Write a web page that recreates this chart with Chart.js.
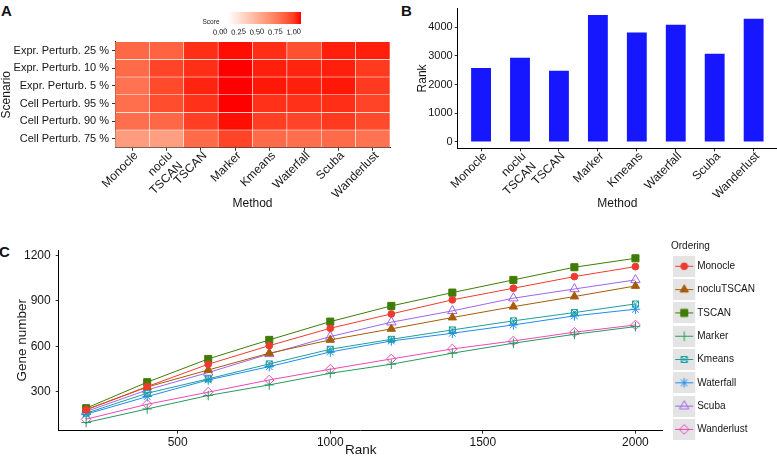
<!DOCTYPE html>
<html>
<head>
<meta charset="utf-8">
<script src="https://cdn.jsdelivr.net/npm/chart.js@4.4.1/dist/chart.umd.min.js"></script>
<style>
  body { margin: 0; background: #fff; width: 777px; height: 456px; position: relative; overflow: hidden;
         font-family: 'Liberation Sans', Arial, Helvetica, sans-serif; }
  canvas { position: absolute; }
  .tag { position: absolute; font-weight: bold; font-size: 15px; color: #111; line-height: 1; }
  .legtitle { position: absolute; font-size: 10px; color: #151515; line-height: 12px; }
</style>
</head>
<body>
<div class="tag" style="left:1px;top:3px">A</div>
<div class="tag" style="left:401px;top:3px">B</div>
<div class="tag" style="left:-1px;top:244px">C</div>

<canvas id="heat" width="392" height="215" style="left:0;top:0"></canvas>
<canvas id="scoreBar" width="115" height="36" style="left:195px;top:0"></canvas>
<canvas id="rank" width="387" height="215" style="left:390px;top:0"></canvas>
<canvas id="genes" width="777" height="226" style="left:0;top:230px"></canvas>
<div class="legtitle" style="left:671px;top:240px">Ordering</div>

<script>
const FONT = "'Liberation Sans', Arial, Helvetica, sans-serif";
Chart.defaults.font.family = FONT;
Chart.defaults.color = '#151515';
Chart.defaults.animation = false;

// ---- panel A: heatmap ----
const scenarios = ['Expr. Perturb. 25 %', 'Expr. Perturb. 10 %', 'Expr. Perturb. 5 %',
                   'Cell Perturb. 95 %', 'Cell Perturb. 90 %', 'Cell Perturb. 75 %'];
const methods = ['Monocle', 'nocluTSCAN', 'TSCAN', 'Marker', 'Kmeans', 'Waterfall', 'Scuba', 'Wanderlust'];
const methodLabels = ['Monocle', ['noclu', 'TSCAN'], 'TSCAN', 'Marker', 'Kmeans', 'Waterfall', 'Scuba', 'Wanderlust'];

// one row per scenario, columns follow methods
const scoreExpr25 = [0.75, 0.77, 0.94, 0.99, 0.94, 0.84, 0.97, 0.97];
const scoreExpr10 = [0.74, 0.88, 0.94, 1.00, 0.97, 0.96, 0.97, 0.91];
const scoreExpr5  = [0.70, 0.86, 0.96, 1.00, 0.98, 0.97, 0.98, 0.91];
const scoreCell95 = [0.72, 0.85, 0.93, 1.00, 0.93, 0.93, 0.94, 0.88];
const scoreCell90 = [0.72, 0.75, 0.90, 0.99, 0.90, 0.88, 0.91, 0.86];
const scoreCell75 = [0.51, 0.50, 0.74, 0.88, 0.74, 0.72, 0.74, 0.70];
const scoreRows = [scoreExpr25, scoreExpr10, scoreExpr5, scoreCell95, scoreCell90, scoreCell75];
const scoreTicks = [0, 0.25, 0.5, 0.75, 1];

// ---- panel B: rank per method ----
const rankByMethod = [2583, 2933, 2485, 4428, 3816, 4088, 3074, 4297];
const rankTicks = [0, 1000, 2000, 3000, 4000];

// ---- panel C: gene number vs rank ----
const ranks = [200, 400, 600, 800, 1000, 1200, 1400, 1600, 1800, 2000];
const geneMonocle    = [179, 333, 481, 604, 719, 814, 907, 984, 1061, 1127];
const geneNocluTSCAN = [180, 330, 443, 554, 642, 715, 790, 862, 929, 999];
const geneTSCAN      = [190, 362, 516, 642, 763, 867, 955, 1039, 1123, 1182];
const geneMarker     = [95, 185, 274, 344, 421, 481, 554, 620, 679, 730];
const geneKmeans     = [157, 289, 384, 483, 580, 646, 708, 768, 823, 880];
const geneWaterfall  = [150, 267, 377, 465, 562, 635, 686, 741, 801, 845];
const geneScuba      = [168, 311, 426, 549, 664, 759, 834, 918, 979, 1039];
const geneWanderlust = [117, 216, 296, 377, 448, 516, 582, 635, 693, 741];
const geneSeries = [geneMonocle, geneNocluTSCAN, geneTSCAN, geneMarker, geneKmeans, geneWaterfall, geneScuba, geneWanderlust];
const geneTicks = [300, 600, 900, 1200];
const rankAxisTicks = [500, 1000, 1500, 2000];

// white -> red in Lab space, like scale_fill_gradient
function scoreColor(t) {
  const L = 100 + (53.24 - 100) * t, A = 80.09 * t, B = 67.2 * t;
  const fy = (L + 16) / 116, fx = fy + A / 500, fz = fy - B / 200;
  const inv = f => f > 6 / 29 ? f * f * f : 3 * (6 / 29) * (6 / 29) * (f - 4 / 29);
  const X = 0.95047 * inv(fx), Y = inv(fy), Z = 1.08883 * inv(fz);
  const lin = [3.2406 * X - 1.5372 * Y - 0.4986 * Z,
              -0.9689 * X + 1.8758 * Y + 0.0415 * Z,
               0.0557 * X - 0.2040 * Y + 1.0570 * Z];
  const rgb = lin.map(c => {
    c = Math.min(1, Math.max(0, c));
    return Math.round(255 * (c <= 0.0031308 ? 12.92 * c : 1.055 * Math.pow(c, 1 / 2.4) - 0.055));
  });
  return 'rgb(' + rgb.join(',') + ')';
}

const axisLine = { color: '#000', width: 1 };
const tickMarks = { drawOnChartArea: false, tickLength: 3, tickColor: '#333' };
const plain = v => String(v);

new Chart(document.getElementById('heat'), {
  type: 'bar',
  data: {
    labels: methodLabels,
    datasets: scoreRows.map((row, i) => ({
      data: row.map(() => [i - 0.5, i + 0.5]),
      backgroundColor: row.map(scoreColor),
      borderColor: 'rgba(255,255,255,0.3)',
      borderWidth: 0.6,
      borderSkipped: false,
      grouped: false,
      barPercentage: 1,
      categoryPercentage: 1
    }))
  },
  options: {
    responsive: false,
    layout: { padding: { top: 41.7, right: 2, left: 0, bottom: 0 } },
    plugins: { legend: { display: false }, tooltip: { enabled: false } },
    scales: {
      x: {
        grid: { ...tickMarks, offset: false },
        border: axisLine,
        ticks: { font: { size: 12 }, minRotation: 45, maxRotation: 45, autoSkip: false, padding: -2, labelOffset: 4 },
        title: { display: true, text: 'Method', font: { size: 12, lineHeight: 1 }, padding: { top: 0, bottom: 5 } },
        afterFit: s => { s.height = 67.3; }
      },
      y: {
        type: 'linear', reverse: true, min: -0.5, max: 5.5,
        afterBuildTicks: s => { s.ticks = scenarios.map((_, i) => ({ value: i })); },
        grid: tickMarks,
        border: axisLine,
        ticks: { font: { size: 11 }, padding: 3, callback: v => scenarios[v] },
        title: { display: true, text: 'Scenario', font: { size: 12, lineHeight: 1 }, padding: { top: 1 } },
        afterFit: s => { s.width = 115; }
      }
    }
  }
});

// colour bar legend of panel A
new Chart(document.getElementById('scoreBar'), {
  type: 'bar',
  data: {
    labels: ['Score'],
    datasets: [{
      data: [[0, 1]],
      barPercentage: 1, categoryPercentage: 1, borderSkipped: false, borderWidth: 0,
      backgroundColor: c => {
        const chart = c.chart;
        if (!chart.chartArea) return scoreColor(1);
        const xs = chart.scales.x;
        const g = chart.ctx.createLinearGradient(xs.getPixelForValue(0), 0, xs.getPixelForValue(1), 0);
        for (let k = 0; k <= 10; k++) g.addColorStop(k / 10, scoreColor(k / 10));
        return g;
      }
    }]
  },
  options: {
    responsive: false,
    indexAxis: 'y',
    layout: { padding: { top: 9, right: 9, left: 0, bottom: 0 } },
    plugins: { legend: { display: false }, tooltip: { enabled: false } },
    scales: {
      x: {
        type: 'linear', min: 0, max: 1, z: 1,
        afterBuildTicks: s => { s.ticks = scoreTicks.map(v => ({ value: v })); },
        grid: { drawTicks: false, lineWidth: 0.8,
                color: c => (c.tick && c.tick.value > 0 && c.tick.value < 1) ? 'rgba(255,255,255,0.6)' : 'rgba(0,0,0,0)' },
        border: { display: false },
        ticks: { font: { size: 7.5 }, padding: 3, callback: v => v.toFixed(2) },
        afterFit: s => { s.height = 12; }
      },
      y: {
        grid: { display: false, drawTicks: false }, border: { display: false },
        ticks: { font: { size: 6.5 }, padding: 8, labelOffset: 4.5 },
        afterFit: s => { s.width = 32.5; }
      }
    }
  }
});

// ---- panel B ----
new Chart(document.getElementById('rank'), {
  type: 'bar',
  data: {
    datasets: [{
      data: rankByMethod.map((v, i) => ({ x: i, y: v })),
      backgroundColor: '#1616ff',
      borderWidth: 0,
      barPercentage: 0.51,
      categoryPercentage: 1
    }]
  },
  options: {
    responsive: false,
    layout: { padding: { top: 0, right: 0, left: 0, bottom: 0 } },
    plugins: { legend: { display: false }, tooltip: { enabled: false } },
    scales: {
      x: {
        type: 'linear', offset: false, min: -0.6, max: 7.6,
        afterBuildTicks: s => { s.ticks = methods.map((_, i) => ({ value: i })); },
        grid: { ...tickMarks, offset: false },
        border: axisLine,
        ticks: { font: { size: 12 }, minRotation: 45, maxRotation: 45, autoSkip: false, padding: -2, labelOffset: 4,
                 callback: v => methodLabels[v] },
        title: { display: true, text: 'Method', font: { size: 12, lineHeight: 1 }, padding: { top: 0, bottom: 5 } },
        afterFit: s => { s.height = 66.7; }
      },
      y: {
        min: -221, max: 4650,
        afterBuildTicks: s => { s.ticks = rankTicks.map(v => ({ value: v })); },
        grid: tickMarks,
        border: axisLine,
        ticks: { font: { size: 11 }, padding: 2, callback: plain },
        title: { display: true, text: 'Rank', font: { size: 12, lineHeight: 1 }, padding: { top: 27 } },
        afterFit: s => { s.width = 67.7; }
      }
    }
  }
});

// ---- panel C ----
const lineColors = ['#ee3b30', '#a65c08', '#3f7c06', '#259b5a', '#1c9e9e', '#1e8cf0', '#a064ec', '#ee48b8'];

function squareCross(color) {
  const c = document.createElement('canvas');
  c.width = 9; c.height = 9;
  const g = c.getContext('2d');
  g.strokeStyle = color; g.lineWidth = 1;
  g.strokeRect(1.5, 1.5, 6, 6);
  g.beginPath();
  g.moveTo(1.5, 1.5); g.lineTo(7.5, 7.5);
  g.moveTo(7.5, 1.5); g.lineTo(1.5, 7.5);
  g.stroke();
  return c;
}

const markerStyles = [
  { style: 'circle', radius: 3.4, filled: true },
  { style: 'triangle', radius: 4.8, filled: true },
  { style: 'rect', radius: 5, filled: true },
  { style: 'cross', radius: 4.8, filled: false },
  { style: squareCross(lineColors[4]), radius: 4.5, filled: false },
  { style: 'star', radius: 4.8, filled: false },
  { style: 'triangle', radius: 5.4, filled: false },
  { style: 'rectRot', radius: 4.8, filled: false }
];

// legend keys: grey box with a short line and the marker
function legendKey(i) {
  const c = document.createElement('canvas');
  c.width = 31; c.height = 21;
  const g = c.getContext('2d');
  g.fillStyle = '#e4e4e4';
  g.fillRect(0, 0, 22, 21);
  g.strokeStyle = lineColors[i]; g.lineWidth = 1;
  g.beginPath(); g.moveTo(2, 10.5); g.lineTo(20, 10.5); g.stroke();
  const m = markerStyles[i];
  g.fillStyle = m.filled ? lineColors[i] : 'rgba(0,0,0,0)';
  Chart.helpers.drawPoint(g, { pointStyle: m.style, radius: m.radius, borderWidth: 1, rotation: 0 }, 11, 10.5);
  return c;
}
const legendKeys = methods.map((_, i) => legendKey(i));

new Chart(document.getElementById('genes'), {
  type: 'line',
  data: {
    datasets: methods.map((name, i) => ({
      label: name,
      data: ranks.map((r, k) => ({ x: r, y: geneSeries[i][k] })),
      borderColor: lineColors[i],
      backgroundColor: markerStyles[i].filled ? lineColors[i] : 'rgba(0,0,0,0)',
      pointBorderColor: lineColors[i],
      pointStyle: markerStyles[i].style,
      pointRadius: markerStyles[i].radius,
      pointBorderWidth: 1,
      borderWidth: 1,
      tension: 0
    }))
  },
  options: {
    responsive: false,
    layout: { padding: { top: 20, right: 12, left: 0, bottom: 0 } },
    plugins: {
      tooltip: { enabled: false },
      legend: {
        position: 'right', align: 'start',
        // the title text itself is placed as page text above; this keeps its room
        title: { display: true, text: '', font: { size: 10 }, padding: { top: -9, bottom: -5 } },
        labels: {
          usePointStyle: true, pointStyleWidth: 7, padding: 13.3,
          font: { size: 10 }, color: '#151515',
          generateLabels: chart => chart.data.datasets.map((ds, i) => ({
            text: ds.label, pointStyle: legendKeys[i], datasetIndex: i,
            lineWidth: 0, fillStyle: 'rgba(0,0,0,0)', strokeStyle: 'rgba(0,0,0,0)', hidden: false
          }))
        }
      }
    },
    scales: {
      x: {
        type: 'linear', min: 110, max: 2090,
        afterBuildTicks: s => { s.ticks = rankAxisTicks.map(v => ({ value: v })); },
        grid: tickMarks,
        border: axisLine,
        ticks: { font: { size: 12 }, padding: 2, maxRotation: 0, callback: plain },
        title: { display: true, text: 'Rank', font: { size: 13.5, lineHeight: 1 }, padding: { top: 0, bottom: -1 } },
        afterFit: s => { s.height = 25.3; }
      },
      y: {
        min: 41, max: 1237,
        afterBuildTicks: s => { s.ticks = geneTicks.map(v => ({ value: v })); },
        grid: tickMarks,
        border: axisLine,
        ticks: { font: { size: 12 }, padding: 5, callback: plain },
        title: { display: true, text: 'Gene number', font: { size: 13.5, lineHeight: 1 }, padding: { top: 16 } },
        afterFit: s => { s.width = 58.7; }
      },
      gap: {
        position: 'right', display: true,
        grid: { display: false }, border: { display: false }, ticks: { display: false },
        afterFit: s => { s.width = 9; }
      }
    }
  }
});
</script>
</body>
</html>
